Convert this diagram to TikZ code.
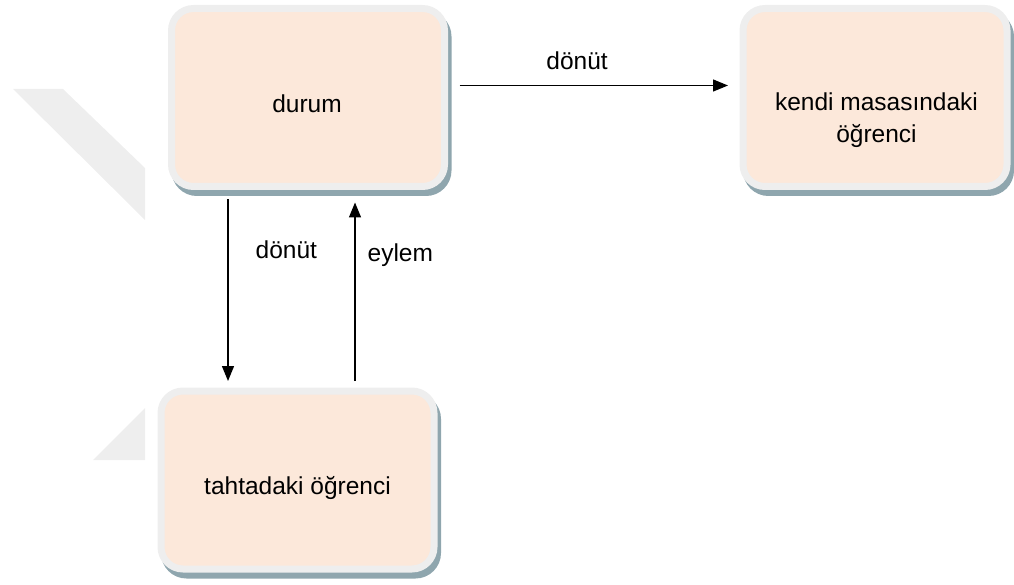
\documentclass[tikz,border=0pt]{standalone}
\usepackage{fontspec}
\setmainfont{Liberation Sans}
\usetikzlibrary{arrows.meta}
\definecolor{peach}{HTML}{FCE8DA}
\definecolor{rim}{HTML}{EEEEEE}
\definecolor{rimshade}{HTML}{8FA6AE}
\definecolor{wmgray}{HTML}{EEEEEE}
\begin{document}
\begin{tikzpicture}[x=1pt,y=-1pt,
    box/.style={rounded corners=22pt,fill=peach,draw=rim,line width=7pt,
      minimum width=273pt,minimum height=178pt,inner sep=0pt,outer sep=10pt,
      preaction={fill=rimshade,draw=rimshade,line width=7pt,
        transform canvas={xshift=3.5pt,yshift=-6pt}}},
    lbl/.style={font=\fontsize{24.5}{32}\selectfont,align=center,inner sep=0pt},
    arr/.style={line width=1.3pt,-{Triangle[length=15pt,width=12pt]}}]
  \useasboundingbox (0,0) rectangle (1014,585);
  \fill[wmgray] (13,89) -- (63,89) -- (145,168) -- (145,220) -- cycle;
  \fill[wmgray] (145,408) -- (145,460) -- (93,460) -- cycle;

  \node[box] (durum) at (308,97.5) {};
  \node[box,minimum width=264pt] (kendi) at (875,97.5) {};
  \node[box] (tahta) at (297.5,480) {};
  \node[lbl] (durumT) at (307,104) {durum};
  \node[lbl] (kendiT) at (876.5,120.5) {kendi masasındaki\\öğrenci};
  \node[lbl] (tahtaT) at (297.5,488) {tahtadaki öğrenci};

  \draw[arr,shorten <=5pt,shorten >=5pt] ([yshift=12pt]durum.east) -- ([yshift=12pt]kendi.west)
    node[lbl,pos=0.44,above=15pt] (topL) {dönüt};
  \draw[arr,shorten <=3pt] ([xshift=-80pt]durum.south) -- ([xshift=-69.5pt]tahta.north)
    node[lbl,pos=0.29,right=27pt] (downL) {dönüt};
  \draw[arr,shorten >=6pt] ([xshift=57.5pt]tahta.north) -- ([xshift=47pt]durum.south)
    node[lbl,pos=0.68,right=12pt] (upL) {eylem};
\end{tikzpicture}
\end{document}
